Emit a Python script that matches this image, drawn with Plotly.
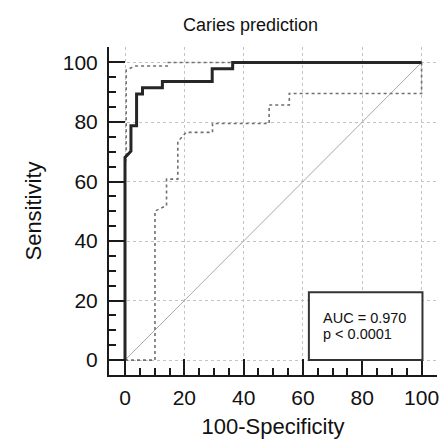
import plotly.graph_objects as go

# ROC curve (100-Specificity, Sensitivity)
roc_x = [0, 0, 2.0, 2.0, 3.9, 3.9, 5.9, 5.9, 12.6, 12.6, 29.4, 29.4, 36.3, 36.3, 100]
roc_y = [0, 68.1, 70.2, 78.7, 78.7, 89.4, 89.4, 91.5, 91.5, 93.6, 93.6, 97.9, 97.9, 100, 100]

# Upper confidence bound
upper_x = [0, 0, 0.4, 0.4, 3.4, 14.6, 14.6, 100]
upper_y = [0, 66, 68, 97.5, 98.8, 98.8, 100, 100]

# Lower confidence bound
lower_x = [0, 10.1, 10.1, 14.0, 14.0, 17.8, 17.8, 20.6, 29.5, 29.5, 48.6, 48.6, 55.4, 55.4, 100, 100]
lower_y = [0, 0, 50.1, 51.9, 60.8, 60.8, 73.4, 76.5, 76.5, 79.5, 79.5, 85.7, 85.7, 89.6, 89.6, 100]

# Reference diagonal
diag_x = [0, 100]
diag_y = [0, 100]

tick_vals = [0, 20, 40, 60, 80, 100]
tick_text = ["0", "20", "40", "60", "80", "100"]
minor_vals = [5, 10, 15, 25, 30, 35, 45, 50, 55, 65, 70, 75, 85, 90, 95]

auc_text = "AUC = 0.970"
p_text = "p < 0.0001"
title_text = "Caries prediction"
x_title = "100-Specificity"
y_title = "Sensitivity"

FONT = "Liberation Sans, Arial, sans-serif"

fig = go.Figure()
fig.add_trace(go.Scatter(x=diag_x, y=diag_y, mode="lines",
                         line=dict(color="#a8a8a8", width=1), hoverinfo="skip"))
fig.add_trace(go.Scatter(x=lower_x, y=lower_y, mode="lines",
                         line=dict(color="#707070", width=1.6, dash="dot")))
fig.add_trace(go.Scatter(x=upper_x, y=upper_y, mode="lines",
                         line=dict(color="#707070", width=1.6, dash="dot")))
fig.add_trace(go.Scatter(x=roc_x, y=roc_y, mode="lines",
                         line=dict(color="#262626", width=3)))

fig.add_shape(type="rect", x0=62, x1=100.3, y0=0, y1=22.8, xref="x", yref="y",
              line=dict(color="#333333", width=2), fillcolor="white", layer="above")
fig.add_annotation(x=66.3, y=14.0, xref="x", yref="y", text=auc_text, showarrow=False,
                   xanchor="left", yanchor="middle", borderpad=0,
                   font=dict(size=14.5, color="#111", family=FONT))
fig.add_annotation(x=66.3, y=8.9, xref="x", yref="y", text=p_text, showarrow=False,
                   xanchor="left", yanchor="middle", borderpad=0,
                   font=dict(size=14.5, color="#111", family=FONT))

fig.add_annotation(x=0.43, y=1.067, xref="paper", yref="paper", text=title_text, showarrow=False,
                   xanchor="center", yanchor="middle", font=dict(size=18, color="#111", family=FONT))

axis_common = dict(
    tickmode="array", tickvals=tick_vals, ticktext=tick_text,
    ticks="inside", ticklen=16, tickwidth=2, tickcolor="#1a1a1a",
    showline=True, linecolor="#1a1a1a", linewidth=2, mirror=False,
    showgrid=True, gridcolor="#c4c4c4", gridwidth=1, griddash="dot",
    zeroline=False, automargin=False,
    tickfont=dict(size=21, color="#111", family=FONT),
    minor=dict(tickmode="array", tickvals=minor_vals, ticks="inside", ticklen=7,
               tickwidth=1.5, tickcolor="#1a1a1a", showgrid=False),
)

fig.update_layout(
    width=440, height=441,
    margin=dict(l=109, r=3, t=47, b=66),
    paper_bgcolor="white", plot_bgcolor="white",
    showlegend=False,
    hovermode=False,
    xaxis=dict(range=[-5.4, 105.2], ticklabelstandoff=3,
               title=dict(text=x_title, font=dict(size=22, color="#111", family=FONT), standoff=10),
               **axis_common),
    yaxis=dict(range=[-5.0, 105.2], ticklabelstandoff=5,
               title=dict(text=y_title, font=dict(size=22, color="#111", family=FONT), standoff=15),
               **axis_common),
)

# remove the page's default body margin so the 440x441 figure fills the window exactly
fig.write_html(
    "out.html",
    config={"displayModeBar": False},
    post_script="document.body.style.margin='0';document.body.style.overflow='hidden';",
)
